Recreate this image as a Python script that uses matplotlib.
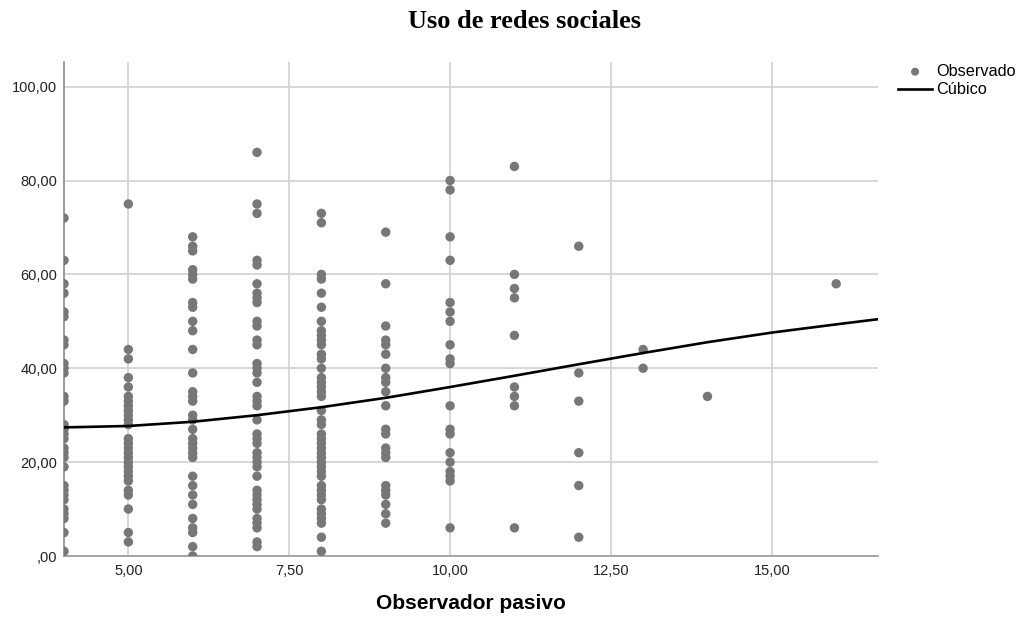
import matplotlib
matplotlib.use('Agg')
import matplotlib.pyplot as plt
import numpy as np

# observed values per "Observador pasivo" score
obs_x4 = [72, 63, 58, 56, 52, 51, 46, 45, 41, 40, 39, 34, 33, 28, 27, 26, 25, 23, 22, 21,
          19, 15, 14, 13, 12, 10, 9, 8, 5, 1]
obs_x5 = [75, 44, 42, 38, 36, 34, 33, 32, 31, 30, 29, 28, 25, 24, 23, 22, 21, 20, 19, 18,
          17, 16, 14, 13, 10, 5, 3]
obs_x6 = [68, 66, 65, 61, 60, 59, 54, 53, 50, 48, 44, 39, 35, 34, 33, 30, 29, 27, 25, 24,
          23, 22, 21, 17, 15, 13, 11, 8, 6, 5, 2, 0]
obs_x7 = [86, 75, 73, 63, 62, 58, 56, 55, 54, 50, 49, 46, 45, 41, 40, 39, 37, 34, 33, 32,
          29, 26, 25, 24, 22, 21, 20, 19, 17, 14, 13, 12, 11, 10, 8, 7, 6, 3, 2]
obs_x8 = [73, 71, 60, 59, 56, 53, 50, 48, 47, 46, 45, 43, 42, 40, 38, 37, 36, 35, 34, 31,
          29, 28, 26, 25, 24, 23, 22, 21, 20, 19, 18, 17, 15, 14, 13, 12, 10, 9, 8, 7, 4, 1]
obs_x9 = [69, 58, 49, 46, 45, 43, 40, 38, 37, 35, 32, 27, 26, 23, 22, 21, 15, 14, 13, 11, 9, 7]
obs_x10 = [80, 78, 68, 63, 54, 52, 50, 45, 42, 41, 32, 27, 26, 22, 20, 18, 17, 16, 6]
obs_x11 = [83, 60, 57, 55, 47, 36, 34, 32, 6]
obs_x12 = [66, 39, 33, 22, 15, 4]
obs_x13 = [44, 40]
obs_x14 = [34]
obs_x16 = [58]

columns = {4: obs_x4, 5: obs_x5, 6: obs_x6, 7: obs_x7, 8: obs_x8, 9: obs_x9, 10: obs_x10,
           11: obs_x11, 12: obs_x12, 13: obs_x13, 14: obs_x14, 16: obs_x16}

# cubic fit
cubic_x = [4, 5, 6, 7, 8, 9, 10, 11, 12, 13, 14, 15, 16, 16.65]
cubic_y = [27.4, 27.7, 28.6, 30.0, 31.7, 33.7, 36.0, 38.4, 40.85, 43.25, 45.55, 47.6, 49.35, 50.45]

xticks = [5, 7.5, 10, 12.5, 15]
xtick_labels = ['5,00', '7,50', '10,00', '12,50', '15,00']
yticks = [0, 20, 40, 60, 80, 100]
ytick_labels = [',00', '20,00', '40,00', '60,00', '80,00', '100,00']

plt.rcParams['font.family'] = ['Liberation Sans', 'DejaVu Sans']

fig = plt.figure(figsize=(10.25, 6.23), dpi=100)
ax = fig.add_axes([64 / 1025, 1 - 556 / 623, (878 - 64) / 1025, (556 - 62) / 623])

xs = np.concatenate([np.full(len(v), k) for k, v in columns.items()])
ys = np.concatenate([np.array(v, dtype=float) for v in columns.values()])

ax.scatter(xs, ys, s=46, color='#777777', edgecolors='none', zorder=3, label='Observado')
ax.plot(cubic_x, cubic_y, color='black', lw=1.9, zorder=4, label='Cúbico')

ax.set_xlim(4, 16.65)
ax.set_ylim(0, 105.25)
ax.set_xticks(xticks)
ax.set_xticklabels(xtick_labels)
ax.set_yticks(yticks)
ax.set_yticklabels(ytick_labels)
ax.tick_params(axis='both', length=0, labelsize=10.5, colors='#222222')
ax.tick_params(axis='x', pad=6)
ax.tick_params(axis='y', pad=5)
ax.grid(True, color='#d4d4d4', lw=1.3, zorder=0)
ax.set_axisbelow(True)
for side in ['top', 'right']:
    ax.spines[side].set_visible(False)
ax.spines['left'].set_color('#8a8a8a')
ax.spines['bottom'].set_color('#9a9a9a')
ax.spines['left'].set_linewidth(1.2)
ax.spines['bottom'].set_linewidth(1.2)

ax.set_xlabel('Observador pasivo', fontsize=15, fontweight='bold', labelpad=11)
fig.text(524 / 1025, 1 - 21 / 623, 'Uso de redes sociales', ha='center', va='center',
         fontsize=19, fontweight='bold', family=['Liberation Serif', 'DejaVu Serif'])

fig.legend(loc='upper left', bbox_to_anchor=(898 / 1025, 1 - 64 / 623), frameon=False,
           fontsize=11.7, handlelength=2.1, handletextpad=0.25, labelspacing=0.2,
           borderpad=0, borderaxespad=0, markerscale=0.85)

fig.savefig('out.png', dpi=100)
